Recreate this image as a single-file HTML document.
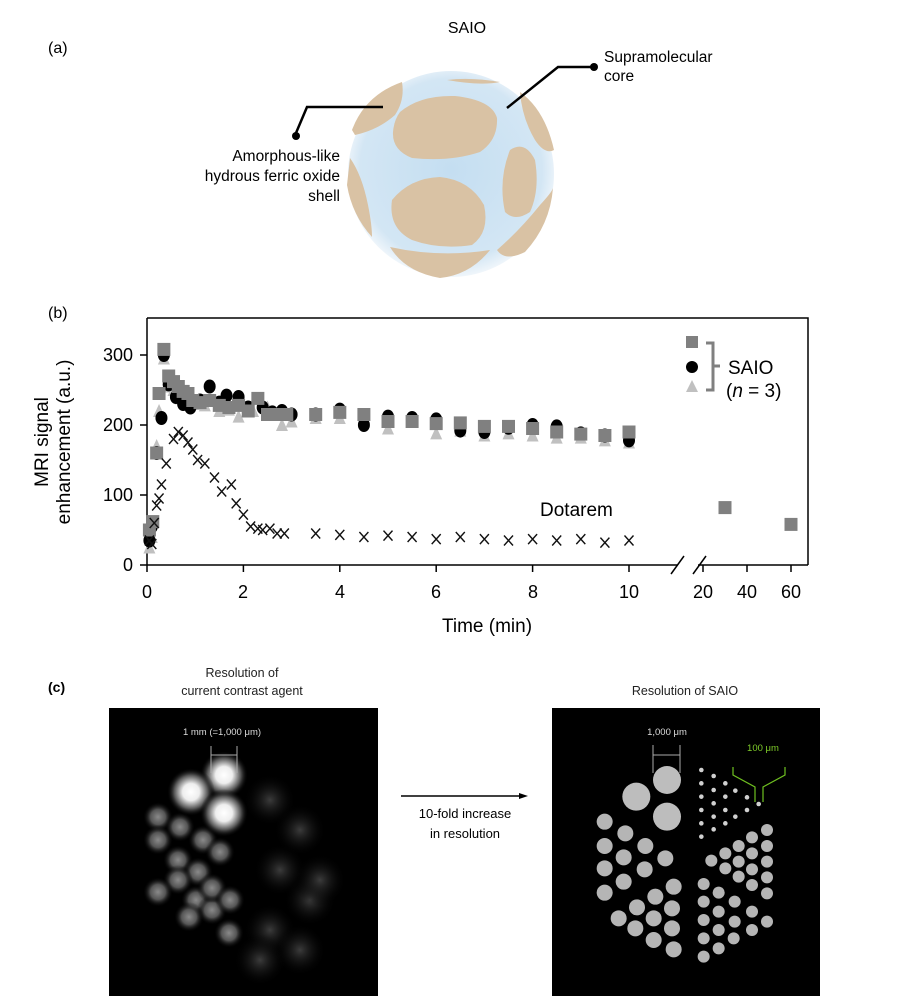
<!DOCTYPE html>
<html><head><meta charset="utf-8"><style>
body{margin:0;background:#fff;width:900px;height:996px;overflow:hidden;font-family:"Liberation Sans",sans-serif;}
</style></head><body>
<svg id="s" width="900" height="996" xmlns="http://www.w3.org/2000/svg" font-family="Liberation Sans, sans-serif">
<defs>
<radialGradient id="core" cx="50%" cy="48%" r="52%"><stop offset="0" stop-color="#c4def1"/><stop offset="0.85" stop-color="#d3e6f4"/><stop offset="1" stop-color="#f0f6fb"/></radialGradient>
<radialGradient id="g1"><stop offset="0" stop-color="#fff"/><stop offset="0.35" stop-color="#eee"/><stop offset="0.7" stop-color="#555"/><stop offset="1" stop-color="#000" stop-opacity="0"/></radialGradient>
<radialGradient id="g2"><stop offset="0" stop-color="#8a8a8a"/><stop offset="0.5" stop-color="#555"/><stop offset="1" stop-color="#000" stop-opacity="0"/></radialGradient>
<radialGradient id="g3"><stop offset="0" stop-color="#3c3c3c"/><stop offset="1" stop-color="#000" stop-opacity="0"/></radialGradient>
</defs>
<!-- panel a -->
<text x="48" y="53" font-size="16">(a)</text>
<text x="467" y="33" font-size="16" text-anchor="middle">SAIO</text>
<circle cx="451" cy="174" r="103" fill="url(#core)"/>
<g fill="#d9c2a4">
<path d="M400 112 Q420 95 455 96 Q492 100 497 118 Q498 140 480 152 Q450 162 412 158 Q392 150 393 132 Q394 120 400 112Z"/>
<path d="M392 200 Q410 178 440 177 Q470 180 484 205 Q490 232 472 245 Q440 250 412 240 Q388 228 392 200Z"/>
<path d="M510 150 Q525 140 535 160 Q540 190 530 212 Q515 222 505 212 Q498 180 510 150Z"/>
<path d="M390 247 Q440 258 490 250 Q470 275 440 278 Q405 272 390 247Z"/>
<path d="M352 130 Q365 95 402 82 Q405 100 395 115 Q378 130 355 135Z"/>
<path d="M350 158 Q362 175 368 205 Q372 225 372 237 Q352 215 347 185Z"/>
<path d="M520 92 Q545 110 554 150 Q545 155 535 140 Q522 118 520 92Z"/>
<path d="M497 250 Q520 230 540 205 Q552 192 553 188 Q550 225 525 252 Q505 262 497 250Z"/>
<path d="M447 80 Q470 77 500 82 Q480 86 447 80Z"/>
</g>
<g stroke="#000" stroke-width="2.5" fill="none">
<polyline points="383,107 307,107 296,133"/>
<polyline points="507,108 558,67 594,67"/>
</g>
<circle cx="296" cy="136" r="4"/><circle cx="594" cy="67" r="4"/>
<g font-size="15.5">
<text x="604" y="62">Supramolecular</text><text x="604" y="81">core</text>
<text x="340" y="161" text-anchor="end">Amorphous-like</text>
<text x="340" y="181" text-anchor="end">hydrous ferric oxide</text>
<text x="340" y="201" text-anchor="end">shell</text>
</g>
<!-- panel b -->
<text x="48" y="318" font-size="16">(b)</text>
<g stroke="#000" stroke-width="1.5" fill="none">
<polyline points="147,318 808,318 808,565"/>
<line x1="147" y1="318" x2="147" y2="565"/>
<line x1="147" y1="565" x2="678" y2="565"/>
<line x1="698" y1="565" x2="808" y2="565"/>
<line x1="671" y1="574" x2="684" y2="556"/>
<line x1="693" y1="574" x2="706" y2="556"/>
</g>
<g id="ticks" stroke="#000" stroke-width="1.5"></g>
<g font-size="18" text-anchor="end">
<text x="133" y="571">0</text><text x="133" y="501">100</text><text x="133" y="431">200</text><text x="133" y="361">300</text>
</g>
<g font-size="18" text-anchor="middle">
<text x="147" y="598">0</text><text x="243" y="598">2</text><text x="340" y="598">4</text><text x="436" y="598">6</text><text x="533" y="598">8</text><text x="629" y="598">10</text>
<text x="703" y="598">20</text><text x="747" y="598">40</text><text x="791" y="598">60</text>
</g>
<text x="487" y="632" font-size="19" text-anchor="middle">Time (min)</text>
<text transform="translate(48,442) rotate(-90)" font-size="19" text-anchor="middle">MRI signal</text>
<text transform="translate(70,442) rotate(-90)" font-size="19" text-anchor="middle">enhancement (a.u.)</text>
<text x="540" y="516" font-size="19">Dotarem</text>
<g id="pts"></g>
<rect x="686" y="336" width="12" height="12" fill="#808080"/>
<circle cx="692" cy="367" r="6"/>
<polygon points="686,392 692,380 698,392" fill="#c0c0c0"/>
<path d="M706 343 H713 V390 H706 M713 366 H720" stroke="#808080" stroke-width="3" fill="none"/>
<text x="728" y="374" font-size="19">SAIO</text>
<text x="726" y="397" font-size="19">(<tspan font-style="italic">n</tspan> = 3)</text>
<!-- panel c -->
<text x="48" y="692" font-size="14" font-weight="bold">(c)</text>
<text x="242" y="677" font-size="12.5" text-anchor="middle" fill="#222">Resolution of</text>
<text x="242" y="695" font-size="12.5" text-anchor="middle" fill="#222">current contrast agent</text>
<text x="685" y="695" font-size="12.5" text-anchor="middle" fill="#222">Resolution of SAIO</text>
<rect x="109" y="708" width="269" height="288" fill="#000"/>
<rect x="552" y="708" width="268" height="288" fill="#000"/>
<g id="left"></g>
<g id="right"></g>
<text x="222" y="735" font-size="9.5" fill="#ddd" text-anchor="middle">1 mm (=1,000 μm)</text>
<path d="M211 746 V773 M211 755 H237 M237 746 V773" stroke="#aaa" fill="none"/>
<text x="667" y="735" font-size="9.5" fill="#ddd" text-anchor="middle">1,000 μm</text>
<path d="M653 745 V773 M653 755 H680 M680 745 V773" stroke="#aaa" fill="none"/>
<text x="763" y="751" font-size="9.5" fill="#7fcc2a" text-anchor="middle">100 μm</text>
<path d="M733 767 V775 L755 787 V802 M785 767 V775 L763 787 V802" stroke="#6fc020" stroke-width="1.2" fill="none"/>
<line x1="401" y1="796" x2="522" y2="796" stroke="#000" stroke-width="1.5"/>
<polygon points="528,796 519,793 519,799"/>
<text x="465" y="818" font-size="13" text-anchor="middle">10-fold increase</text>
<text x="465" y="838" font-size="13" text-anchor="middle">in resolution</text>
</svg>
<script>
var NS="http://www.w3.org/2000/svg";
function el(p,t,a){var e=document.createElementNS(NS,t);for(var k in a)e.setAttribute(k,a[k]);p.appendChild(e);return e;}
var X=function(t){return t>15?703+(t-20)*2.2:147+48.2*t;},Y=function(v){return 565-0.7*v;};
var tk=document.getElementById('ticks');
[0,2,4,6,8,10,20,40,60].forEach(function(t){el(tk,'line',{x1:X(t),x2:X(t),y1:565,y2:572});});
[0,100,200,300].forEach(function(v){el(tk,'line',{x1:140,x2:147,y1:Y(v),y2:Y(v)});});
var P=document.getElementById('pts');
var tri=[[0.05,25],[0.1,40],[0.2,170],[0.25,220],[0.35,295],[0.45,255],[0.55,250],[0.7,238],[0.85,232],[1,230],[1.2,228],[1.5,220],[1.7,222],[1.9,212],[2.2,220],[2.5,225],[2.8,200],[3,205],[3.5,210],[4,210],[4.5,205],[5,195],[5.5,205],[6,188],[6.5,192],[7,185],[7.5,188],[8,185],[8.5,182],[9,182],[9.5,178],[10,175]];
tri.forEach(function(d){var x=X(d[0]),y=Y(d[1]);el(P,'polygon',{points:(x-6)+','+(y+6)+' '+x+','+(y-7)+' '+(x+6)+','+(y+6),fill:'#c0c0c0'});});
var cir=[[0.05,35],[0.1,55],[0.2,160],[0.3,210],[0.35,300],[0.45,258],[0.6,240],[0.75,230],[0.9,225],[1.1,235],[1.3,255],[1.5,232],[1.65,242],[1.9,240],[2.1,225],[2.4,225],[2.6,218],[2.8,220],[3,215],[3.5,215],[4,222],[4.5,200],[5,212],[5.5,210],[6,208],[6.5,192],[7,190],[7.5,196],[8,200],[8.5,198],[9,188],[9.5,185],[10,178]];
cir.forEach(function(d){el(P,'ellipse',{cx:X(d[0]),cy:Y(d[1]),rx:6,ry:7,fill:'#000'});});
var sq=[[0.05,50],[0.12,62],[0.2,160],[0.25,245],[0.35,308],[0.45,270],[0.55,262],[0.65,255],[0.75,248],[0.85,245],[0.95,235],[1.1,232],[1.3,235],[1.5,228],[1.7,225],[1.9,228],[2.1,220],[2.3,238],[2.5,215],[2.7,215],[2.9,215],[3.5,215],[4,218],[4.5,215],[5,205],[5.5,205],[6,202],[6.5,203],[7,198],[7.5,198],[8,195],[8.5,190],[9,187],[9.5,185],[10,190],[30,82],[60,58]];
sq.forEach(function(d){el(P,'rect',{x:X(d[0])-6.5,y:Y(d[1])-6.5,width:13,height:13,fill:'#808080'});});
var xs=[[0.05,35],[0.1,30],[0.15,60],[0.2,85],[0.25,95],[0.3,115],[0.4,145],[0.55,180],[0.65,190],[0.75,185],[0.85,175],[0.95,165],[1.05,150],[1.2,145],[1.4,125],[1.55,105],[1.75,115],[1.85,88],[2,72],[2.15,55],[2.3,52],[2.4,50],[2.55,52],[2.7,45],[2.85,45],[3.5,45],[4,43],[4.5,40],[5,42],[5.5,40],[6,37],[6.5,40],[7,37],[7.5,35],[8,37],[8.5,35],[9,37],[9.5,32],[10,35]];
xs.forEach(function(d){var x=X(d[0]),y=Y(d[1]);el(P,'path',{d:'M'+(x-4.5)+' '+(y-5)+'L'+(x+4.5)+' '+(y+5)+'M'+(x+4.5)+' '+(y-5)+'L'+(x-4.5)+' '+(y+5),stroke:'#111','stroke-width':1.4});});
var L=document.getElementById('left');
[[270,800],[300,830],[280,870],[310,900],[270,930],[300,950],[320,880],[260,960]].forEach(function(c){el(L,'circle',{cx:c[0],cy:c[1],r:26,fill:'url(#g3)'});});
[[158,817],[180,827],[158,840],[203,840],[220,852],[178,860],[198,872],[178,880],[158,892],[196,900],[212,910],[229,933],[189,917],[212,888],[230,900]].forEach(function(c){el(L,'circle',{cx:c[0],cy:c[1],r:15,fill:'url(#g2)'});});
el(L,'circle',{cx:224,cy:775,r:24,fill:'url(#g1)'});
el(L,'circle',{cx:191,cy:792,r:24,fill:'url(#g1)'});
el(L,'circle',{cx:224,cy:813,r:24,fill:'url(#g1)'});
var R=document.getElementById('right');
function rz(a,r,f){a.forEach(function(c){el(R,'circle',{cx:552+c[0]/3,cy:740+c[1]/3,r:r,fill:f});});}
rz([[345,120],[253,170],[345,230]],14,'#bdbdbd');
rz([[158,245],[220,280],[158,318],[280,318],[215,352],[340,355],[158,385],[278,388],[215,425],[158,458],[365,440],[310,470],[255,502],[360,505],[200,535],[305,535],[250,565],[360,565],[305,600],[365,628]],8,'#b5b5b5');
rz([[455,432],[500,458],[455,485],[548,485],[500,515],[600,515],[455,540],[548,545],[645,545],[500,570],[600,570],[455,595],[545,595],[500,625],[455,650],[478,362],[520,340],[560,318],[600,292],[645,270],[520,385],[560,365],[600,340],[645,318],[560,410],[600,388],[645,365],[600,435],[645,412],[645,460]],6,'#b5b5b5');
rz([[448,90],[485,108],[520,130],[448,130],[485,150],[520,170],[550,152],[585,172],[620,192],[448,170],[485,190],[520,210],[550,230],[585,210],[448,210],[485,230],[448,250],[485,268],[520,250],[448,290]],2.3,'#d0d0d0');
</script>
</body></html>
